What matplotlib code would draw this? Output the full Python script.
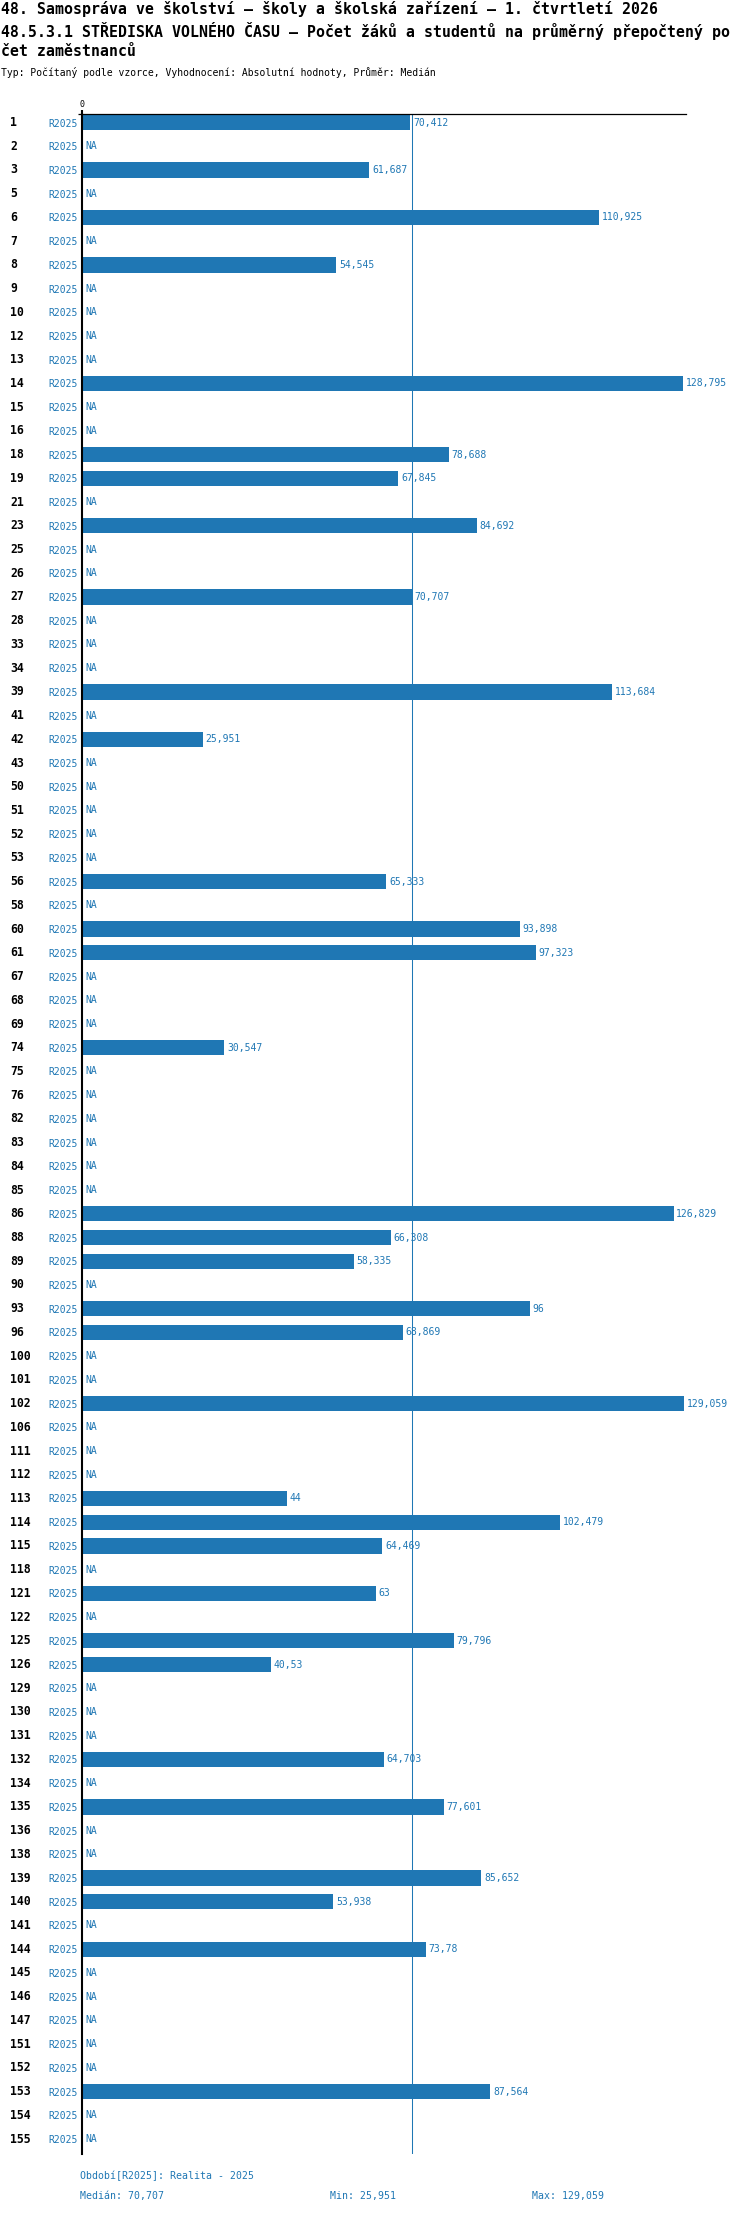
import numpy as np
import matplotlib
matplotlib.use("Agg")
from matplotlib import pyplot as plt
from matplotlib import transforms

# data
categories = [1, 2, 3, 5, 6, 7, 8, 9, 10, 12, 13, 14, 15, 16, 18, 19, 21, 23, 25, 26,
              27, 28, 33, 34, 39, 41, 42, 43, 50, 51, 52, 53, 56, 58, 60, 61, 67, 68, 69, 74,
              75, 76, 82, 83, 84, 85, 86, 88, 89, 90, 93, 96, 100, 101, 102, 106, 111, 112, 113, 114,
              115, 118, 121, 122, 125, 126, 129, 130, 131, 132, 134, 135, 136, 138, 139, 140, 141, 144, 145, 146,
              147, 151, 152, 153, 154, 155]
NA = np.nan
values = [70.412, NA, 61.687, NA, 110.925, NA, 54.545, NA, NA, NA,
          NA, 128.795, NA, NA, 78.688, 67.845, NA, 84.692, NA, NA,
          70.707, NA, NA, NA, 113.684, NA, 25.951, NA, NA, NA,
          NA, NA, 65.333, NA, 93.898, 97.323, NA, NA, NA, 30.547,
          NA, NA, NA, NA, NA, NA, 126.829, 66.308, 58.335, NA,
          96, 68.869, NA, NA, 129.059, NA, NA, NA, 44, 102.479,
          64.469, NA, 63, NA, 79.796, 40.53, NA, NA, NA, 64.703,
          NA, 77.601, NA, NA, 85.652, 53.938, NA, 73.78, NA, NA,
          NA, NA, NA, 87.564, NA, NA]
series_label = "R2025"
title_lines = [
    "48. Samospráva ve školství – školy a školská zařízení – 1. čtvrtletí 2026",
    "48.5.3.1 STŘEDISKA VOLNÉHO ČASU – Počet žáků a studentů na průměrný přepočtený po",
    "čet zaměstnanců",
]
subtitle = "Typ: Počítaný podle vzorce, Vyhodnocení: Absolutní hodnoty, Průměr: Medián"
period_text = "Období[R2025]: Realita - 2025"

BLUE = "#1f77b4"
W, H = 750, 2214
plt.rcParams['font.family'] = ['DejaVu Sans Mono', 'DejaVu Sans']

def fmt(v):
    return f"{v:g}".replace(".", ",")

vals = np.array(values, dtype=float)
ypos = np.arange(len(categories))
median = np.nanmedian(vals)
vmin = np.nanmin(vals)
vmax = np.nanmax(vals)

fig = plt.figure(figsize=(W / 100, H / 100), dpi=100)
ax = fig.add_axes([81.5 / W, 1 - 2154 / H, (686 - 81.5) / W, (2154 - 114.3) / H])

mask = ~np.isnan(vals)
ax.barh(ypos[mask], vals[mask], height=0.645, color=BLUE, zorder=2)
ax.axvline(median, color=BLUE, lw=0.75, zorder=1)

for y, v in zip(ypos, vals):
    if np.isnan(v):
        ax.annotate("NA", (0, y), xytext=(3, 0), textcoords="offset points",
                    ha="left", va="center", color=BLUE, fontsize=7)
    else:
        ax.annotate(fmt(v), (v, y), xytext=(2, 0), textcoords="offset points",
                    ha="left", va="center", color=BLUE, fontsize=7)

ax.set_xlim(0, 129.5)
ax.set_ylim(len(categories) - 1 + 0.632, -0.346)

# axis look
for s in ["right", "bottom"]:
    ax.spines[s].set_visible(False)
ax.spines["left"].set_linewidth(1.5)
ax.spines["top"].set_linewidth(0.9)
ax.xaxis.tick_top()
ax.set_xticks([0])
ax.set_xticklabels(["0"])
ax.tick_params(axis="x", length=3, width=1.5, pad=0.5, labelsize=6)
ax.set_yticks(ypos)
ax.set_yticklabels([series_label] * len(categories), color=BLUE, fontsize=7)
ax.tick_params(axis="y", length=0, pad=3)
ax.set_yticks([ax.get_ylim()[1]], minor=True)
ax.tick_params(axis="y", which="minor", left=True, length=3, width=0.9)

blend = transforms.blended_transform_factory(fig.transFigure, ax.transData)
for y, c in zip(ypos, categories):
    ax.text(10 / W, y, str(c), transform=blend, ha="left", va="center",
            fontsize=8.3, fontweight="bold", color="black")

# titles
for yy, line in zip([9, 31, 52], title_lines):
    fig.text(1 / W, 1 - yy / H, line, ha="left", va="center",
             fontsize=10.7, fontweight="bold", color="black")
fig.text(1 / W, 1 - 73 / H, subtitle, ha="left", va="center", fontsize=7.05, color="black")

# footer
fig.text(80 / W, 1 - 2176 / H, period_text, ha="left", va="center", fontsize=7.1, color=BLUE)
fig.text(80 / W, 1 - 2196 / H, "Medián: " + fmt(median), ha="left", va="center", fontsize=7.1, color=BLUE)
fig.text(330 / W, 1 - 2196 / H, "Min: " + fmt(vmin), ha="left", va="center", fontsize=7.1, color=BLUE)
fig.text(532 / W, 1 - 2196 / H, "Max: " + fmt(vmax), ha="left", va="center", fontsize=7.1, color=BLUE)

fig.savefig("out.png", dpi=100)
